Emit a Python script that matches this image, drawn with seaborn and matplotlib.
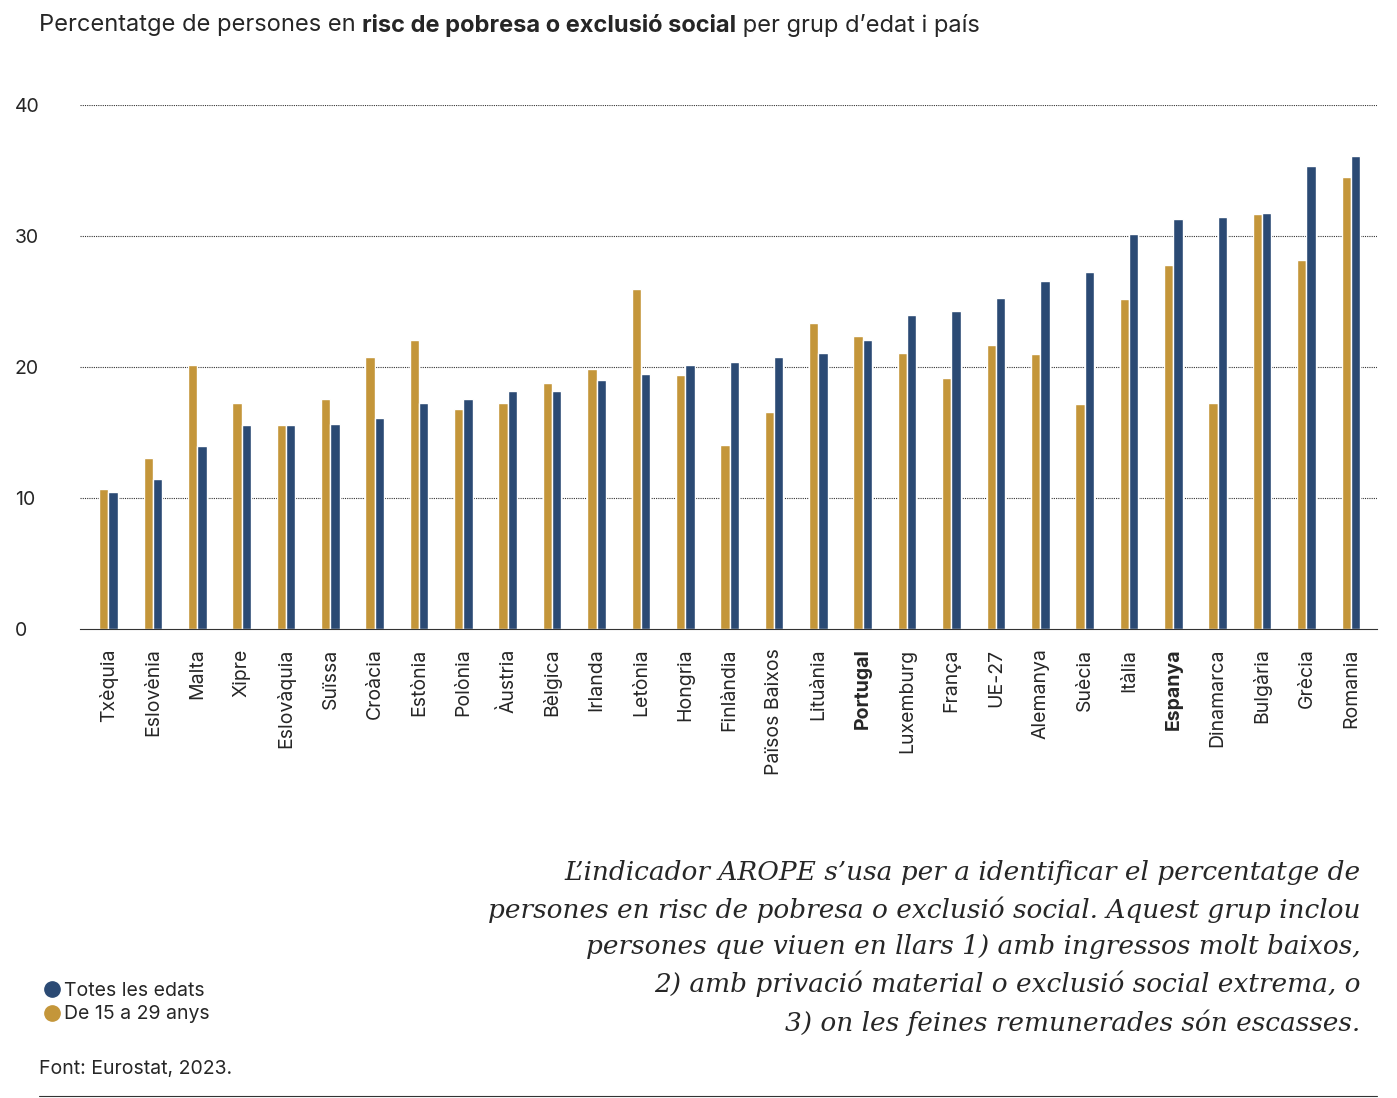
import matplotlib
matplotlib.use("Agg")
import matplotlib.pyplot as plt
import seaborn as sns
import pandas as pd
from matplotlib.lines import Line2D

countries = ["Txèquia","Eslovènia","Malta","Xipre","Eslovàquia","Suïssa","Croàcia","Estònia","Polònia","Àustria","Bèlgica","Irlanda","Letònia","Hongria","Finlàndia","Països Baixos","Lituània","Portugal","Luxemburg","França","UE-27","Alemanya","Suècia","Itàlia","Espanya","Dinamarca","Bulgària","Grècia","Romania"]
young = [10.7,13.1,20.2,17.3,15.6,17.6,20.8,22.1,16.8,17.3,18.8,19.9,26.0,19.4,14.1,16.6,23.4,22.4,21.1,19.2,21.7,21.0,17.2,25.2,27.8,17.3,31.7,28.2,34.5]
total = [10.5,11.5,14.0,15.6,15.6,15.7,16.1,17.3,17.6,18.2,18.2,19.0,19.5,20.2,20.4,20.8,21.1,22.1,24.0,24.3,25.3,26.6,27.3,30.2,31.3,31.5,31.8,35.4,36.1]
series = ["De 15 a 29 anys","Totes les edats"]
GOLD, BLUE = "#C4963A", "#2B4A74"

df = pd.DataFrame({"país": countries*2, "valor": young+total,
                   "grup": [series[0]]*len(countries)+[series[1]]*len(countries)})

sns.set_style("white")
plt.rcParams['font.family'] = ['Inter', 'DejaVu Sans']
fig = plt.figure(figsize=(13.97,10.98), dpi=100)
ax = fig.add_axes([0.057, 0.427, 0.929, 0.477])
sns.barplot(data=df, x="país", y="valor", hue="grup", palette=[GOLD, BLUE],
            width=0.42, gap=0, ax=ax, legend=False, saturation=1)
ax.set_ylim(0, 40)
ax.set_xlim(-0.65, len(countries)-0.4)
ax.set_yticks([0,10,20,30,40])
for y in [10,20,30,40]:
    ax.axhline(y, color="#333", lw=0.8, ls=(0,(1,1)), zorder=0)
ax.tick_params(axis='y', length=0, labelsize=14, pad=16)
ax.tick_params(axis='x', length=0, labelsize=14, rotation=90, pad=14)
for lab in ax.get_yticklabels():
    lab.set_horizontalalignment('left'); lab.set_x(-0.033)
for lab in ax.get_xticklabels():
    lab.set_verticalalignment('top')
    if lab.get_text() in ("Portugal","Espanya"):
        lab.set_fontweight('bold')
for s in ["top","right","left"]:
    ax.spines[s].set_visible(False)
ax.spines["bottom"].set_color("#333")
ax.set_xlabel(""); ax.set_ylabel("")

fig.text(0.028, 0.977, "Percentatge de persones en ", fontsize=17, va="center")
t = fig.texts[-1]
fig.canvas.draw()
bb = t.get_window_extent().transformed(fig.transFigure.inverted())
t2 = fig.text(bb.x1, 0.977, "risc de pobresa o exclusió social", fontsize=17, fontweight="bold", va="center")
fig.canvas.draw()
bb2 = t2.get_window_extent().transformed(fig.transFigure.inverted())
fig.text(bb2.x1, 0.977, " per grup d’edat i país", fontsize=17, va="center")

note = ("L’indicador AROPE s’usa per a identificar el percentatge de\n"
        "persones en risc de pobresa o exclusió social. Aquest grup inclou\n"
        "persones que viuen en llars 1) amb ingressos molt baixos,\n"
        "2) amb privació material o exclusió social extrema, o\n"
        "3) on les feines remunerades són escasses.")
fig.text(0.974, 0.137, note, fontsize=19, family="DejaVu Serif", style="italic",
         ha="right", va="center", linespacing=1.55)

handles = [Line2D([],[],marker='o',ls='',color=BLUE,markersize=11),
           Line2D([],[],marker='o',ls='',color=GOLD,markersize=11)]
fig.legend(handles, ["Totes les edats","De 15 a 29 anys"], loc="center left",
           bbox_to_anchor=(0.018, 0.087), frameon=False, fontsize=14,
           handletextpad=0.1, labelspacing=0.3, handlelength=1)
fig.text(0.028, 0.026, "Font: Eurostat, 2023.", fontsize=14, va="center")
fig.add_artist(Line2D([0.028, 0.986], [0.002, 0.002], color="#333", lw=0.8))
fig.savefig("out.png", dpi=100)
